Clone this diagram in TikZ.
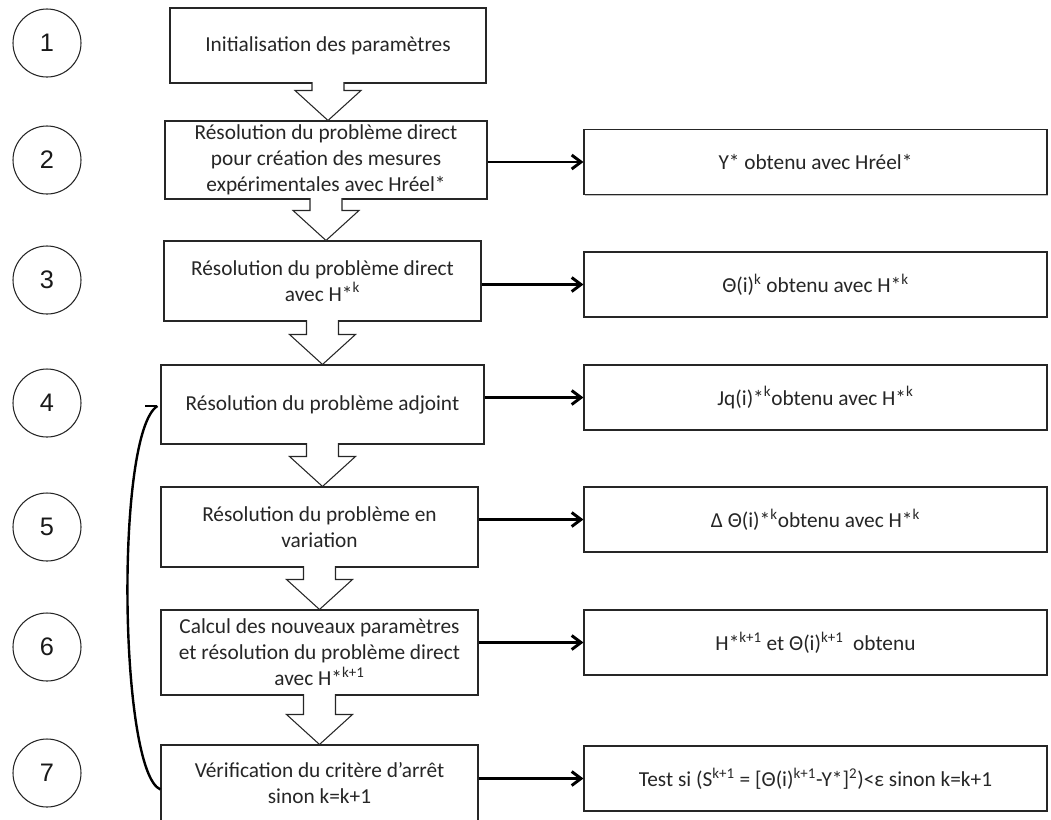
\documentclass[tikz,border=0pt]{standalone}
\usepackage{fontspec}
\setmainfont{Carlito}
\newfontfamily\numfont{Liberation Sans}
\usetikzlibrary{arrows.meta,calc,shadows}
\newcommand\hdown[2]{%
  \draw[hollow] ($(#1.south)+(-16,-1.5)$) -- ($(#1.south |- #2.north)+(-16,-30)$)
    -- ($(#1.south |- #2.north)+(-33,-30)$) -- (#1.south |- #2.north)
    -- ($(#1.south |- #2.north)+(33,-30)$) -- ($(#1.south |- #2.north)+(16,-30)$)
    -- ($(#1.south)+(16,-1.5)$);}
\begin{document}
\begin{tikzpicture}[x=0.75pt,y=-0.75pt,
  boxbase/.style={draw=black!85,line width=0.8pt,fill=white,align=center,inner sep=2pt,
    text=black!85,font=\fontsize{16}{19.5}\selectfont,
    drop shadow={shadow xshift=0.9pt,shadow yshift=-1.1pt,fill=black,opacity=0.25}},
  lbox/.style={boxbase},
  rbox/.style={boxbase,minimum width=347.25pt,minimum height=48.75pt},
  numc/.style={draw=black!85,line width=0.8pt,circle,minimum size=51pt,inner sep=0pt,
    font=\numfont\fontsize{19}{22}\selectfont,text=black!90},
  hollow/.style={draw=black!85,line width=0.8pt,fill=white,line join=miter},
  harrow/.style={line width=2.2pt,-{Straight Barb[length=7pt,width=10.5pt]}},
  loopline/.style={line width=1.8pt}]
\useasboundingbox (0,0) rectangle (1051,819);

% step numbers
\node[numc] (c1) at (47,43) {1};
\node[numc] (c2) at (47,160) {2};
\node[numc] (c3) at (47,280) {3};
\node[numc] (c4) at (47,403) {4};
\node[numc] (c5) at (47,527) {5};
\node[numc] (c6) at (47,647) {6};
\node[numc] (c7) at (47,773) {7};

% left boxes
\node[lbox,minimum width=237pt,minimum height=56.25pt] (b1) at (328,45.5) {Initialisation des paramètres};
\node[lbox,minimum width=241.5pt,minimum height=58.5pt] (b2) at (326,160) {Résolution du problème direct\\pour création des mesures\\expérimentales avec Hréel*};
\node[lbox,minimum width=237.75pt,minimum height=60pt] (b3) at (322.5,281) {Résolution du problème direct\\avec H*\textsuperscript{k}};
\node[lbox,minimum width=242.25pt,minimum height=59.25pt] (b4) at (322.5,404.5) {Résolution du problème adjoint};
\node[lbox,minimum width=237.75pt,minimum height=60pt] (b5) at (319.5,527) {Résolution du problème en\\variation};
\node[lbox,minimum width=237.75pt,minimum height=63.75pt] (b6) at (319.5,652.5) {Calcul des nouveaux paramètres\\et résolution du problème direct\\avec H*\textsuperscript{k+1}};
\node[lbox,minimum width=237.75pt,minimum height=57.75pt] (b7) at (319.5,783.5) {Vérification du critère d’arrêt\\sinon k=k+1};

% right boxes
\node[rbox] (r2) at (815.5,162) {Y* obtenu avec Hréel*};
\node[rbox] (r3) at (815.5,284.5) {Θ(i)\textsuperscript{k} obtenu avec H*\textsuperscript{k}};
\node[rbox] (r4) at (815.5,397.5) {Jq(i)*\textsuperscript{k}obtenu avec H*\textsuperscript{k}};
\node[rbox] (r5) at (815.5,519.5) {Δ Θ(i)*\textsuperscript{k}obtenu avec H*\textsuperscript{k}};
\node[rbox] (r6) at (815.5,642.5) {H*\textsuperscript{k+1} et Θ(i)\textsuperscript{k+1}\ \ obtenu};
\node[rbox] (r7) at (815.5,778.5) {Test si (S\textsuperscript{k+1} = [Θ(i)\textsuperscript{k+1}-Y*]\textsuperscript{2})<ε sinon k=k+1};

% hollow flow arrows
\hdown{b1}{b2}
\hdown{b2}{b3}
\hdown{b3}{b4}
\hdown{b4}{b5}
\hdown{b5}{b6}
\hdown{b6}{b7}

% result arrows
\draw[harrow] (b2.east |- r2.west) -- (r2.west);
\draw[harrow] (b3.east |- r3.west) -- (r3.west);
\draw[harrow] (b4.east |- r4.west) -- (r4.west);
\draw[harrow] (b5.east |- r5.west) -- (r5.west);
\draw[harrow] (b6.east |- r6.west) -- (r6.west);
\draw[harrow] (b7.east |- r7.west) -- (r7.west);

% loop back
\coordinate (lp) at ($(b4.west)+(-3,1.5)$);
\draw[loopline] ($(b7.west)+(0,6)$) .. controls (119,772) and (115,432) .. (lp);
\draw[loopline] (lp) -- ++(-12,0);
\end{tikzpicture}
\end{document}
